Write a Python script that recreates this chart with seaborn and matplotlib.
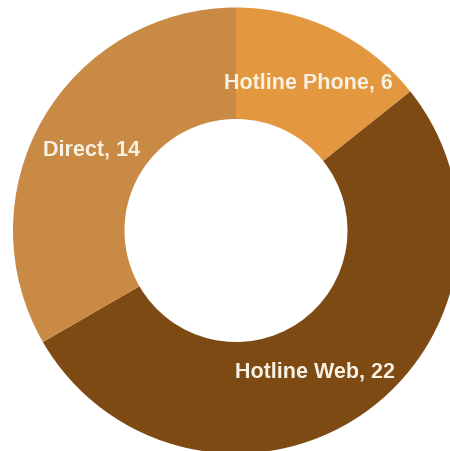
import matplotlib
matplotlib.use("Agg")
import matplotlib.pyplot as plt
import seaborn as sns

# Data
channels = ["Hotline Phone", "Hotline Web", "Direct"]
counts = [6, 22, 14]
colors = ["#E39840", "#7D4A14", "#C98A45"]

sns.set_theme(style="white")
plt.rcParams["font.family"] = ["Liberation Sans", "DejaVu Sans"]

fig = plt.figure(figsize=(4.5, 4.51), dpi=100)
ax = fig.add_axes([0, 0, 1, 1])

labels = [f"{c}, {v}" for c, v in zip(channels, counts)]
wedges, texts = ax.pie(counts, labels=labels, colors=colors, startangle=90,
                       counterclock=False, radius=1,
                       wedgeprops=dict(width=0.5, linewidth=0),
                       labeldistance=0.75,
                       textprops=dict(color="#F7F1E3", fontsize=15.5,
                                      fontweight="bold", ha="center", va="center"))
for t in texts:
    t.set_horizontalalignment("center")
    x, y = t.get_position()
    t.set_position((x, y - 0.015))
# Excel pulls the web label a bit toward the center
x, y = texts[1].get_position()
texts[1].set_position((x - 0.07, y))

# center at (236, 230.5) px, outer radius 223 px
ax.set_xlim(-236 / 223, 214 / 223)
ax.set_ylim((230.5 - 451) / 223, 230.5 / 223)
ax.set_aspect("auto")
ax.axis("off")

fig.savefig("out.png", dpi=100, facecolor="white")
